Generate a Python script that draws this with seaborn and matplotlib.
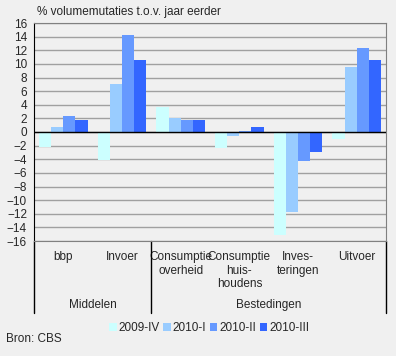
import pandas as pd
import matplotlib.pyplot as plt
import matplotlib.transforms as mtransforms
import seaborn as sns

categories = ["bbp", "Invoer", "Consumptie\noverheid", "Consumptie\nhuis-\nhoudens", "Inves-\nteringen", "Uitvoer"]
periods = ["2009-IV", "2010-I", "2010-II", "2010-III"]
v_2009_iv = [-2.2, -4.1, 3.6, -2.4, -15.1, -1.0]
v_2010_i = [0.7, 7.1, 2.1, -0.6, -11.7, 9.6]
v_2010_ii = [2.3, 14.2, 1.8, 0.2, -4.2, 12.3]
v_2010_iii = [1.8, 10.5, 1.8, 0.7, -2.9, 10.5]
groups = ["Middelen", "Bestedingen"]
group_sizes = [2, 4]
colors = ["#CCFFFF", "#99CCFF", "#6699FF", "#3366FF"]

rows = []
for period, vals in zip(periods, [v_2009_iv, v_2010_i, v_2010_ii, v_2010_iii]):
    for cat, v in zip(categories, vals):
        rows.append({"cat": cat, "period": period, "value": v})
df = pd.DataFrame(rows)

sns.set_style("white")
plt.rcParams["font.family"] = ["Liberation Sans", "DejaVu Sans"]
plt.rcParams["font.size"] = 8.5

bg = "#F0F0F0"
fig = plt.figure(figsize=(3.96, 3.56), dpi=100, facecolor=bg)
ax = fig.add_axes([34 / 396, 1 - 241 / 356, 352 / 396, 218 / 356])
ax.set_facecolor(bg)

sns.barplot(data=df, x="cat", y="value", hue="period", palette=colors,
            width=0.825, gap=0, saturation=1, linewidth=0, ax=ax, legend=True, zorder=3)

ax.set_ylim(-16, 16)
ax.set_yticks(range(-16, 17, 2))
ax.set_xlim(-0.5, len(categories) - 0.5)
ax.yaxis.grid(True, color="#A0A0A0", lw=1, zorder=0)
ax.set_axisbelow(True)
ax.axhline(0, color="black", lw=1, zorder=4)
ax.tick_params(axis="y", length=3, width=1, color="black", pad=2, labelsize=8.5)
ax.tick_params(axis="x", length=0, pad=7, labelsize=8.5)
ax.set_xlabel("")
ax.set_ylabel("")
for s in ["top", "right", "bottom"]:
    ax.spines[s].set_color("#808080")
ax.spines["left"].set_color("black")

# separator lines and group labels below the axis
trans = mtransforms.blended_transform_factory(ax.transData, ax.transAxes)
bounds = [-0.5]
for n in group_sizes:
    bounds.append(bounds[-1] + n)
for b in bounds:
    ax.plot([b, b], [0, -0.33], color="black", lw=1, transform=trans, clip_on=False)
for g, a, b in zip(groups, bounds[:-1], bounds[1:]):
    ax.text((a + b) / 2, -0.295, g, transform=trans, ha="center", va="center", fontsize=8.5)

ax.get_legend().remove()
handles, labels = ax.get_legend_handles_labels()
fig.legend(handles, labels, loc="center", bbox_to_anchor=(209 / 396, 1 - 328 / 356), ncol=4,
           frameon=False, handlelength=0.65, handleheight=0.65, handletextpad=0.15,
           columnspacing=0.3, fontsize=8.5)

fig.text(37 / 396, 1 - 12 / 356, "% volumemutaties t.o.v. jaar eerder", ha="left", va="center", fontsize=8.5)
fig.text(6 / 396, 1 - 339 / 356, "Bron: CBS", ha="left", va="center", fontsize=8.5)

fig.savefig("out.png", dpi=100, facecolor=bg)
